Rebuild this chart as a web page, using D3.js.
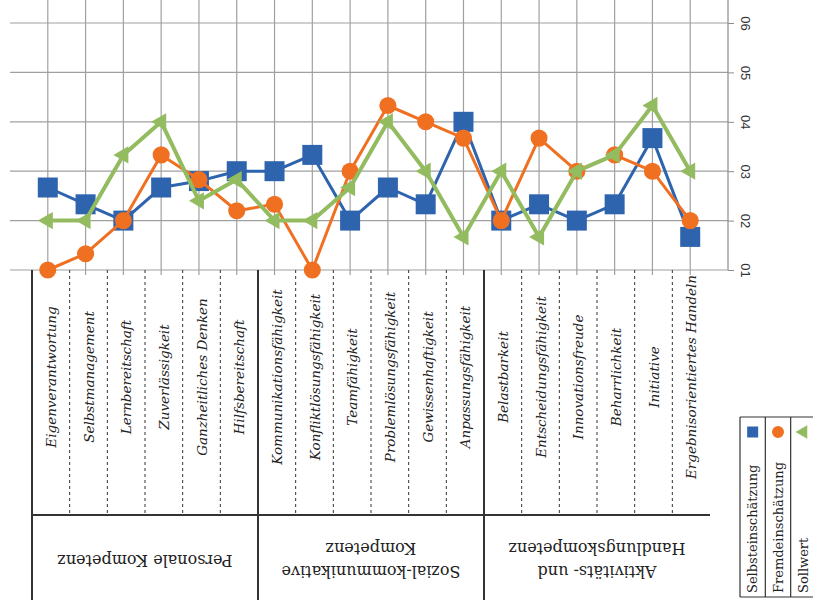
<!DOCTYPE html>
<html>
<head>
<meta charset="utf-8">
<script src="https://cdn.jsdelivr.net/npm/d3@7"></script>
<style>
  body { margin: 0; background: #fff; }
  svg { display: block; }
</style>
</head>
<body>
<div class="chart"></div>
<script>
// Data
const categories = [
  "Eigenverantwortung", "Selbstmanagement", "Lernbereitschaft", "Zuverlässigkeit",
  "Ganzheitliches Denken", "Hilfsbereitschaft",
  "Kommunikationsfähigkeit", "Konfliktlösungsfähigkeit", "Teamfähigkeit",
  "Problemlösungsfähigkeit", "Gewissenhaftigkeit", "Anpassungsfähigkeit",
  "Belastbarkeit", "Entscheidungsfähigkeit", "Innovationsfreude", "Beharrlichkeit",
  "Initiative", "Ergebnisorientiertes Handeln"
];
const groupNames = [
  ["Personale Kompetenz"],
  ["Sozial-kommunikative", "Kompetenz"],
  ["Aktivitäts- und", "Handlungskompetenz"]
];
const groupSizes = [6, 6, 6];

const selbst = [2.67, 2.33, 2, 2.67, 2.8, 3, 3, 3.33, 2, 2.67, 2.33, 4, 2, 2.33, 2, 2.33, 3.67, 1.67];
const fremd  = [1, 1.33, 2, 3.33, 2.83, 2.2, 2.33, 1, 3, 4.33, 4, 3.67, 2, 3.67, 3, 3.33, 3, 2];
const soll   = [2, 2, 3.33, 4, 2.4, 2.83, 2, 2, 2.67, 4, 3, 1.67, 3, 1.67, 3, 3.33, 4.33, 3];

const seriesNames = ["Selbsteinschätzung", "Fremdeinschätzung", "Sollwert"];
const yTicks = [1, 2, 3, 4, 5, 6];
const yTickLabels = ["01", "02", "03", "04", "05", "06"];

// Styling
const width = 813, height = 607;
const colors = ["#2e63ae", "#f07022", "#93bb5f"];
const serif = "'DejaVu Serif', serif";

const svg = d3.select(".chart").append("svg")
  .attr("width", width)
  .attr("height", height);

// Scales
const x = d3.scalePoint().domain(categories).range([10, 728]).padding(1);
const y = d3.scaleLinear().domain([1, 6]).range([270, 23]);
const xTable = d3.scaleBand().domain(categories).range([32, 710]);

// Grid
const grid = svg.append("g");
grid.selectAll(".vgrid").data(categories).join("line")
  .attr("x1", d => x(d)).attr("x2", d => x(d))
  .attr("y1", 0).attr("y2", 275)
  .attr("stroke", "#a0a0a0").attr("stroke-width", 1.2);
grid.selectAll(".hgrid").data(yTicks).join("line")
  .attr("x1", 10).attr("x2", 728)
  .attr("y1", d => y(d)).attr("y2", d => y(d))
  .attr("stroke", "#a0a0a0").attr("stroke-width", 1.2);

// Value axis on the right, labels turned
const yAxis = d3.axisRight(y).tickValues(yTicks).tickSize(6).tickFormat((d, i) => yTickLabels[i]);
const gY = svg.append("g").attr("transform", "translate(728,0)").call(yAxis);
gY.select(".domain").attr("d", "M0,0V270").attr("stroke", "#8c8c8c").attr("stroke-width", 1.2);
gY.selectAll(".tick line").attr("stroke", "#8c8c8c");
gY.selectAll(".tick text")
  .attr("x", 0).attr("dy", null)
  .attr("transform", "translate(17,0) rotate(90)")
  .attr("text-anchor", "middle")
  .attr("dominant-baseline", "central")
  .attr("fill", "#333")
  .style("font-family", "'Liberation Sans', Arial, sans-serif")
  .style("font-size", "13px");

// Series
const series = [selbst, fremd, soll];
const symbols = [d3.symbolSquare, d3.symbolCircle, d3.symbolTriangle];
const symbolSizes = [400, 230, 130];
const symbolRot = [0, 0, -90];
const lineWidths = [3, 3, 4];

const line = d3.line().x((d, i) => x(categories[i])).y(d => y(d));

series.forEach((values, s) => {
  const g = svg.append("g");
  g.append("path")
    .attr("d", line(values))
    .attr("fill", "none")
    .attr("stroke", colors[s])
    .attr("stroke-width", lineWidths[s])
    .attr("stroke-linejoin", "round");
  g.selectAll("path.marker").data(values).join("path")
    .attr("class", "marker")
    .attr("d", d3.symbol().type(symbols[s]).size(symbolSizes[s]))
    .attr("transform", (d, i) => `translate(${x(categories[i])},${y(d)}) rotate(${symbolRot[s]})`)
    .attr("fill", colors[s]);
});

// Category table below
const table = svg.append("g");
const tableTop = 270, rowSplit = 515, tableBottom = 600;

table.selectAll(".sep").data(categories.slice(1)).join("line")
  .attr("x1", d => xTable(d)).attr("x2", d => xTable(d))
  .attr("y1", tableTop).attr("y2", rowSplit)
  .attr("stroke", "#333").attr("stroke-width", 1)
  .attr("stroke-dasharray", "3,3");

table.selectAll(".cat").data(categories).join("text")
  .attr("transform", d => `translate(${xTable(d) + xTable.bandwidth() / 2},377) rotate(-90)`)
  .attr("text-anchor", "middle")
  .attr("dominant-baseline", "central")
  .attr("fill", "#222")
  .style("font-family", serif)
  .style("font-style", "italic")
  .style("font-size", "13.5px")
  .text(d => d);

// Group boundaries
let start = 0;
const groupBounds = groupSizes.map(n => {
  const b = {first: categories[start], last: categories[start + n - 1]};
  start += n;
  return b;
});

table.append("line")
  .attr("x1", xTable.range()[0]).attr("x2", xTable.range()[1])
  .attr("y1", rowSplit).attr("y2", rowSplit)
  .attr("stroke", "#333").attr("stroke-width", 2);

table.selectAll(".gsep").data(groupBounds).join("line")
  .attr("x1", d => xTable(d.first)).attr("x2", d => xTable(d.first))
  .attr("y1", tableTop).attr("y2", tableBottom)
  .attr("stroke", "#333").attr("stroke-width", 2);

const groupLabel = table.selectAll(".grp").data(groupBounds).join("g")
  .attr("transform", (d, i) => {
    const cx = (xTable(d.first) + xTable(d.last) + xTable.bandwidth()) / 2;
    return `translate(${cx},560) rotate(180)`;
  });
groupLabel.each(function(d, i) {
  const lines = groupNames[i];
  d3.select(this).selectAll("text").data(lines).join("text")
    .attr("y", (t, j) => (j - (lines.length - 1) / 2) * 23)
    .attr("text-anchor", "middle")
    .attr("dominant-baseline", "central")
    .attr("fill", "#222")
    .style("font-family", serif)
    .style("font-size", "16px")
    .text(t => t);
});

// Legend, bottom right
const legend = svg.append("g");
const legX = d3.scaleBand().domain(seriesNames).range([740, 816]);
legend.append("line")
  .attr("x1", 740).attr("x2", 813).attr("y1", 417).attr("y2", 417)
  .attr("stroke", "#333").attr("stroke-width", 1.2);
legend.append("line")
  .attr("x1", 740).attr("x2", 813).attr("y1", 597).attr("y2", 597)
  .attr("stroke", "#333").attr("stroke-width", 1.2);
legend.selectAll(".lsep").data(seriesNames).join("line")
  .attr("x1", d => legX(d)).attr("x2", d => legX(d))
  .attr("y1", 417).attr("y2", 597)
  .attr("stroke", "#333").attr("stroke-width", 1.2);

const legSizes = [121, 113, 80];
legend.selectAll(".lmark").data(seriesNames).join("path")
  .attr("d", (d, i) => d3.symbol().type(symbols[i]).size(legSizes[i])())
  .attr("transform", (d, i) => `translate(${legX(d) + legX.bandwidth() / 2},432) rotate(${symbolRot[i]})`)
  .attr("fill", (d, i) => colors[i]);

legend.selectAll(".ltext").data(seriesNames).join("text")
  .attr("transform", d => `translate(${legX(d) + legX.bandwidth() / 2},593) rotate(-90)`)
  .attr("text-anchor", "start")
  .attr("dominant-baseline", "central")
  .attr("fill", "#222")
  .style("font-family", serif)
  .style("font-size", "13px")
  .text(d => d);
</script>
</body>
</html>
